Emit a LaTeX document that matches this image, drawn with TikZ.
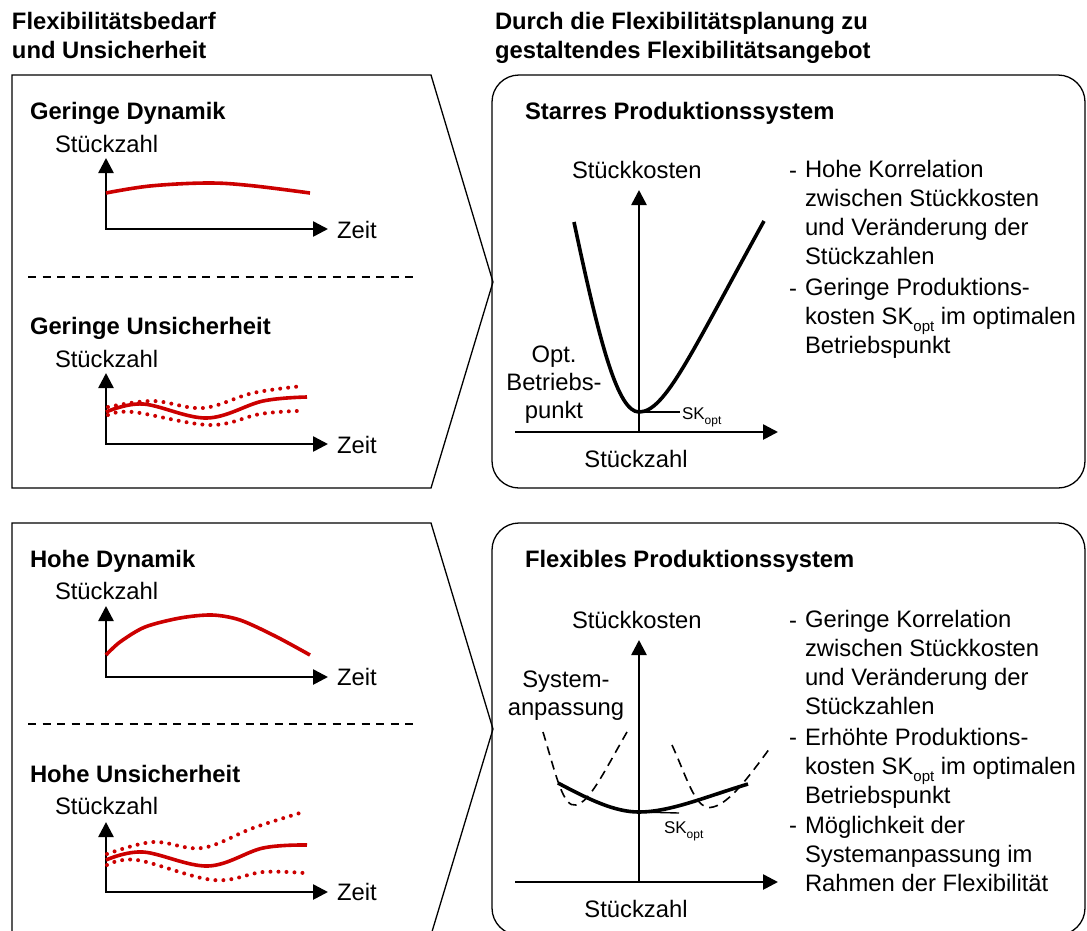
\documentclass[tikz,border=0pt]{standalone}
\usepackage{fontspec}
\setmainfont{Liberation Sans}
\usetikzlibrary{arrows.meta}
\definecolor{curvered}{RGB}{204,0,0}
% lowered "opt" index in a given size
\newcommand{\optsub}[1]{\raisebox{-0.3em}{\fontsize{#1}{#1}\selectfont opt}}
\begin{document}
\begin{tikzpicture}[x=1pt,y=-1pt,
  every node/.style={inner sep=0pt, outer sep=0pt, font=\fontsize{23.8}{28.9}\selectfont},
  % multi-line nodes are placed at the baseline of their last line
  lbl/.style={anchor=base west, align=left},
  ctrlbl/.style={anchor=base, align=center, font=\fontsize{23.8}{27.6}\selectfont},
  headline/.style={anchor=base west, align=left, font=\fontsize{23.8}{29}\selectfont\bfseries},
  smalllbl/.style={anchor=base west, font=\fontsize{17}{17}\selectfont},
  panel/.style={draw=black, line width=1.3pt, line join=miter},
  divider/.style={draw, line width=1.3pt, dash pattern=on 8pt off 6.5pt},
  axisarrow/.style={line width=2.6pt, line join=miter},
  flowline/.style={draw=curvered, line width=3.6pt},
  bandline/.style={draw=curvered, line width=4pt, line cap=round, dash pattern=on 0pt off 8pt},
  costline/.style={line width=3.6pt},
  adaptline/.style={line width=1.6pt, dash pattern=on 9pt off 6pt},
  marker/.style={line width=1.4pt},
  tip/.tip={Triangle[length=15pt,width=15pt]}
]
\useasboundingbox (0,0) rectangle (1087,930);

% column headings
\node[headline] (hl) at (12,58) {Flexibilitätsbedarf\\und Unsicherheit};
\node[headline] (hr) at (495,58) {Durch die Flexibilitätsplanung zu\\gestaltendes Flexibilitätsangebot};

% ---------- demand panels (arrow shaped) ----------
\draw[panel] (12,75) -- (431,75) -- (493,282) -- (431,488) -- (12,488) -- cycle;
\draw[panel] (12,523) -- (431,523) -- (493,729) -- (431,935) -- (12,935) -- cycle;
\draw[divider] (28,277) -- (413,277);
\draw[divider] (28,724) -- (413,724);

% Geringe Dynamik
\node[headline] (gd) at (30,119) {Geringe Dynamik};
\node[lbl] (gdy) at (55,152) {Stückzahl};
\node[lbl] (gdx) at (337,238) {Zeit};
\coordinate (o1) at (106,229);
\draw[axisarrow, tip-tip] (106,158) -- (o1) -- (328,229);
\draw[flowline] plot[smooth, tension=0.6] coordinates {(106,193) (150,186) (207,183) (250,185.5) (310,193)};

% Geringe Unsicherheit
\node[headline] (gu) at (30,334) {Geringe Unsicherheit};
\node[lbl] (guy) at (55,367) {Stückzahl};
\node[lbl] (gux) at (337,453) {Zeit};
\coordinate (o2) at (106,444);
\draw[axisarrow, tip-tip] (106,373) -- (o2) -- (328,444);
\draw[flowline] plot[smooth, tension=0.6] coordinates {(106,412) (143,404) (207,418) (263,401) (307,397)};
\draw[bandline] plot[smooth, tension=0.6] coordinates {(108,407) (153,401) (203,408) (253,393) (303,386)};
\draw[bandline] plot[smooth, tension=0.6] coordinates {(108,415) (133,412) (210,425) (260,414) (297,411)};

% Hohe Dynamik
\node[headline] (hd) at (30,567) {Hohe Dynamik};
\node[lbl] (hdy) at (55,599) {Stückzahl};
\node[lbl] (hdx) at (337,685) {Zeit};
\coordinate (o3) at (106,677);
\draw[axisarrow, tip-tip] (106,606) -- (o3) -- (328,677);
\draw[flowline] plot[smooth, tension=0.5] coordinates {(106,655) (120,642) (145,627) (180,618) (212,615) (240,620) (275,636) (310,655)};

% Hohe Unsicherheit
\node[headline] (hu) at (30,782) {Hohe Unsicherheit};
\node[lbl] (huy) at (55,814) {Stückzahl};
\node[lbl] (hux) at (337,900) {Zeit};
\coordinate (o4) at (106,892);
\draw[axisarrow, tip-tip] (106,822) -- (o4) -- (328,892);
\draw[flowline] plot[smooth, tension=0.6] coordinates {(106,860) (143,852) (208,866) (263,848) (307,845)};
\draw[bandline] plot[smooth, tension=0.6] coordinates {(107,854) (153,842) (202,848) (253,828) (300,813)};
\draw[bandline] plot[smooth, tension=0.6] coordinates {(107,865) (137,860) (213,880) (263,872) (304,873)};

% ---------- supply panels (rounded) ----------
\draw[panel, rounded corners=27pt] (492,75) rectangle (1085,488);
\draw[panel, rounded corners=27pt] (492,523) rectangle (1085,935);

% Starres Produktionssystem
\node[headline] (sp) at (525,119) {Starres Produktionssystem};
\node[lbl] (spy) at (572,178) {Stückkosten};
\node[ctrlbl] (spx) at (636,467) {Stückzahl};
\coordinate (o5) at (639,432);
\draw[axisarrow, -tip] (515,432) -- (778,432);
\draw[axisarrow, -tip] (o5) -- (639,190);
\coordinate (m5) at (639,412);
\draw[costline] (574,222) .. controls (600,345) and (618,412) .. (m5)
                .. controls (665,412) and (690,355) .. (764,221);
\draw[marker] (m5) -- (680,412);
\node[smalllbl] (sk1) at (682,419) {SK\optsub{12}};
\node[ctrlbl] (opt) at (554,418) {Opt.\\Betriebs-\\punkt};
\node[lbl] (sd1) at (789,178) {-};
\node[lbl] (st1) at (805,264) {Hohe Korrelation\\zwischen Stückkosten\\und Veränderung der\\Stückzahlen};
\node[lbl] (sd2) at (789,296) {-};
\node[lbl] (st2) at (805,353) {Geringe Produktions-\\kosten SK\optsub{15} im optimalen\\Betriebspunkt};

% Flexibles Produktionssystem
\node[headline] (fp) at (525,567) {Flexibles Produktionssystem};
\node[lbl] (fpy) at (572,628) {Stückkosten};
\node[ctrlbl] (fpx) at (636,917) {Stückzahl};
\coordinate (o6) at (639,882);
\draw[axisarrow, -tip] (515,882) -- (778,882);
\draw[axisarrow, -tip] (o6) -- (639,640);
\coordinate (m6) at (639,812);
\draw[costline] (558,783) .. controls (590,800) and (615,812) .. (m6)
                .. controls (670,812) and (705,797) .. (748,784);
\draw[adaptline] (543,732) .. controls (556,775) and (563,808) .. (576,805)
                 .. controls (590,802) and (605,770) .. (627,732);
\draw[adaptline] (672,745) .. controls (688,780) and (696,812) .. (713,807)
                 .. controls (730,803) and (750,775) .. (770,748);
\draw[marker] (m6) -- (679,813);
\node[smalllbl] (sk2) at (664,833) {SK\optsub{12}};
\node[ctrlbl] (sys) at (566,715) {System-\\anpassung};
\node[lbl] (fd1) at (789,628) {-};
\node[lbl] (ft1) at (805,714) {Geringe Korrelation\\zwischen Stückkosten\\und Veränderung der\\Stückzahlen};
\node[lbl] (fd2) at (789,745) {-};
\node[lbl] (ft2) at (805,803) {Erhöhte Produktions-\\kosten SK\optsub{15} im optimalen\\Betriebspunkt};
\node[lbl] (fd3) at (789,833) {-};
\node[lbl] (ft3) at (805,891) {Möglichkeit der\\Systemanpassung im\\Rahmen der Flexibilität};
\end{tikzpicture}
\end{document}
